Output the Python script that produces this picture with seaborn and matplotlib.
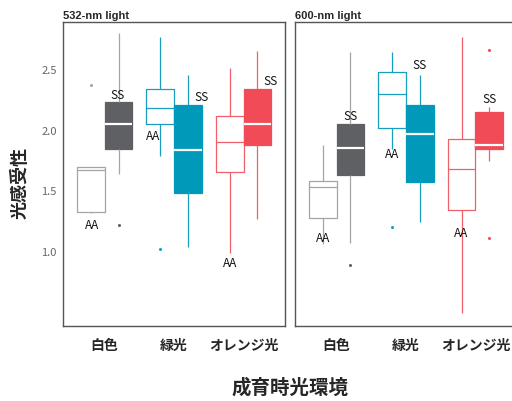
import numpy as np
import pandas as pd
import seaborn as sns
import matplotlib.pyplot as plt

sns.set_style('white')
plt.rcParams['font.family'] = ['Noto Sans CJK JP', 'DejaVu Sans']

panels = ['532-nm light', '600-nm light']
envs = ['白色', '緑光', 'オレンジ光']
conds = ['AA', 'SS']  # AA = open box, SS = filled box

# box summaries per env: [lower whisker, Q1, median, Q3, upper whisker]
open_532 = [[1.31, 1.324, 1.665, 1.688, 1.69],
            [1.78, 2.051, 2.178, 2.34, 2.767],
            [0.985, 1.651, 1.902, 2.109, 2.508]]
fill_532 = [[1.632, 1.839, 2.045, 2.225, 2.795],
            [1.031, 1.473, 1.833, 2.20, 2.45],
            [1.26, 1.874, 2.045, 2.34, 2.651]]
open_600 = [[1.054, 1.269, 1.53, 1.577, 1.872],
            [1.84, 2.01, 2.293, 2.473, 2.638],
            [0.49, 1.337, 1.674, 1.921, 2.767]]
fill_600 = [[1.06, 1.627, 1.845, 2.051, 2.638],
            [1.238, 1.564, 1.963, 2.205, 2.45],
            [1.742, 1.839, 1.872, 2.142, 2.189]]

# outlier points
out_panel = ['532-nm light'] * 3 + ['600-nm light'] * 4
out_env = ['白色', '白色', '緑光', '白色', '緑光', 'オレンジ光', 'オレンジ光']
out_cond = ['AA', 'SS', 'AA', 'SS', 'AA', 'SS', 'SS']
out_val = [2.37, 1.21, 1.018, 0.88, 1.194, 2.657, 1.103]

# letter labels: height per env, and x shift from the category centre
lab_y = {'532-nm light': {'AA': [1.22, 1.955, 0.905], 'SS': [2.29, 2.27, 2.41]},
         '600-nm light': {'AA': [1.11, 1.80, 1.15], 'SS': [2.12, 2.54, 2.26]}}
lab_dx = {'532-nm light': {'AA': [-0.18, -0.30, -0.20], 'SS': [0.19, 0.39, 0.39]},
          '600-nm light': {'AA': [-0.20, -0.20, -0.20], 'SS': [0.20, 0.20, 0.20]}}

line_col = {'白色': '#a5a5a5', '緑光': '#1a9ec0', 'オレンジ光': '#f0606a'}
fill_col = {'白色': '#5f6064', '緑光': '#0099ba', 'オレンジ光': '#f04b56'}

rows = []
for p, opn, fil in zip(panels, [open_532, open_600], [fill_532, fill_600]):
    for e, o, f in zip(envs, opn, fil):
        rows += [(p, e, 'AA', v) for v in o]
        rows += [(p, e, 'SS', v) for v in f]
df = pd.DataFrame(rows, columns=['panel', 'env', 'cond', 'val'])
outs = pd.DataFrame({'panel': out_panel, 'env': out_env, 'cond': out_cond, 'val': out_val})

fig = plt.figure(figsize=(5.12, 4.02), dpi=100)
ax1 = fig.add_axes([0.123, 0.187, 0.434, 0.756])
ax2 = fig.add_axes([0.576, 0.187, 0.434, 0.756], sharey=ax1)

for ax, p in zip([ax1, ax2], panels):
    for e in envs:
        for c in conds:
            sub = df[(df.panel == p) & (df.env == e) & (df.cond == c)]
            kw = dict(data=sub, x='env', y='val', hue='cond', order=envs, hue_order=conds,
                      dodge=True, width=0.8, whis=(0, 100), showfliers=False,
                      saturation=1, legend=False, ax=ax, capprops={'visible': False})
            if c == 'AA':
                sns.boxplot(**kw, palette={k: line_col[e] for k in conds}, fill=False,
                            linewidth=0.9)
            else:
                sns.boxplot(**kw, palette={k: fill_col[e] for k in conds}, fill=True,
                            linecolor=line_col[e], linewidth=0.9,
                            boxprops={'edgecolor': fill_col[e]},
                            medianprops={'color': 'white', 'linewidth': 1.6})
    for _, r in outs[outs.panel == p].iterrows():
        col = line_col[r.env] if r.cond == 'AA' else fill_col[r.env]
        sns.stripplot(x=[r.env], y=[r.val], hue=[r.cond], order=envs, hue_order=conds,
                      dodge=True, jitter=False, palette={k: col for k in conds},
                      size=2.2, legend=False, ax=ax)
    for i, e in enumerate(envs):
        for c in conds:
            ax.text(i + lab_dx[p][c][i], lab_y[p][c][i], c, ha='center', va='center',
                    fontsize=8.5, color='#111')

    ax.set_xlim(-0.6, 2.6)
    ax.set_ylim(0.38, 2.89)
    ax.set_xticks(range(len(envs)))
    ax.set_xticklabels(envs, fontsize=10, fontweight='bold')
    ax.set_xlabel('')
    ax.set_ylabel('')
    ax.set_title(p, loc='left', fontsize=8, fontweight='bold', pad=3,
                 family=['Liberation Sans', 'DejaVu Sans'])
    for s in ax.spines.values():
        s.set_color('#555555')
        s.set_linewidth(1.0)
    ax.tick_params(axis='x', direction='out', length=2, width=0.6, color='#999999', pad=7)
    ax.tick_params(axis='y', direction='out', length=3, width=0.6, color='#999999',
                   labelsize=8, labelcolor='#666666', pad=1.5)

ax1.set_yticks([1.0, 1.5, 2.0, 2.5])
ax2.tick_params(axis='y', left=False, labelleft=False)

fig.text(0.04, 0.545, '光感受性', rotation=90, ha='center', va='center',
         fontsize=13, fontweight='bold')
fig.text(0.567, 0.035, '成育時光環境', ha='center', va='center',
         fontsize=14, fontweight='bold')

fig.savefig('out.png', dpi=100)
